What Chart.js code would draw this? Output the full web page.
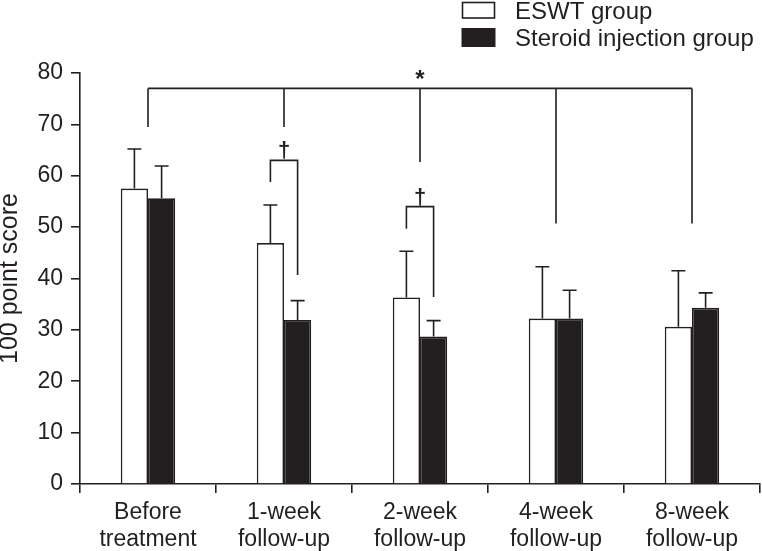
<!DOCTYPE html>
<html>
<head>
<meta charset="utf-8">
<script src="https://cdn.jsdelivr.net/npm/chart.js@4.4.1/dist/chart.umd.min.js"></script>
<style>
html,body{margin:0;padding:0;background:#fff;}
#wrap{position:relative;width:762px;height:551px;}
</style>
</head>
<body>
<div id="wrap"><canvas id="c" width="762" height="551"></canvas></div>
<script>
// ---- data ----
const categories = [["Before","treatment"],["1-week","follow-up"],["2-week","follow-up"],["4-week","follow-up"],["8-week","follow-up"]];
const seriesNames = ["ESWT group","Steroid injection group"];
const eswtMean = [57.5, 46.9, 36.3, 32.2, 30.6];
const eswtSD = [7.7, 7.4, 9.0, 10.1, 10.9];
const steroidMean = [55.6, 31.9, 28.7, 32.2, 34.3];
const steroidSD = [6.3, 3.8, 3.1, 5.5, 2.9];
const yTicks = [0,10,20,30,40,50,60,70,80];
// overall bracket (*): top level and drop ends per category
const starBracketTop = 77.0;
const starBracketEnds = [69.5, 69.5, 62.7, 50.7, 50.7];
// dagger brackets: category index, top, left end (ESWT), right end (steroid)
const daggerCats = [1, 2];
const daggerTops = [63.0, 54.0];
const daggerLeftEnds = [58.8, 49.7];
const daggerRightEnds = [40.7, 36.4];

const INK = '#231f20';
const FONT = '"Liberation Sans", Arial, Helvetica, sans-serif';

const annot = {
  id: 'annot',
  afterDatasetsDraw(chart) {
    const ctx = chart.ctx;
    const y = chart.scales.y, x = chart.scales.x;
    ctx.save();
    ctx.strokeStyle = INK;
    ctx.fillStyle = INK;
    ctx.lineWidth = 1.6;
    ctx.lineCap = 'butt';
    // error bars (upper only)
    [[eswtMean, eswtSD], [steroidMean, steroidSD]].forEach((pair, di) => {
      const meta = chart.getDatasetMeta(di);
      meta.data.forEach((bar, i) => {
        const px = bar.x;
        const top = y.getPixelForValue(pair[0][i] + pair[1][i]);
        const base = y.getPixelForValue(pair[0][i]);
        ctx.beginPath();
        ctx.moveTo(px, base); ctx.lineTo(px, top);
        ctx.moveTo(px - 7, top); ctx.lineTo(px + 7, top);
        ctx.stroke();
      });
    });
    // star bracket
    const yt = y.getPixelForValue(starBracketTop);
    const xs = starBracketEnds.map((v, i) => x.getPixelForValue(i));
    ctx.beginPath();
    ctx.moveTo(xs[0], yt); ctx.lineTo(xs[xs.length - 1], yt);
    starBracketEnds.forEach((v, i) => {
      ctx.moveTo(xs[i], yt); ctx.lineTo(xs[i], y.getPixelForValue(v));
    });
    ctx.stroke();
    ctx.font = 'bold 24px ' + FONT;
    ctx.textAlign = 'center';
    ctx.textBaseline = 'alphabetic';
    ctx.fillText('*', xs[2], yt - 1);
    // dagger brackets
    daggerCats.forEach((ci, k) => {
      const xl = chart.getDatasetMeta(0).data[ci].x;
      const xr = chart.getDatasetMeta(1).data[ci].x;
      const t = y.getPixelForValue(daggerTops[k]);
      ctx.beginPath();
      ctx.moveTo(xl, y.getPixelForValue(daggerLeftEnds[k]));
      ctx.lineTo(xl, t); ctx.lineTo(xr, t);
      ctx.lineTo(xr, y.getPixelForValue(daggerRightEnds[k]));
      ctx.stroke();
      ctx.font = 'bold 22px ' + FONT;
      ctx.fillText('\u2020', (xl + xr) / 2, t - 3);
    });
    ctx.restore();
  },
  afterDraw(chart) {
    const ctx = chart.ctx;
    ctx.save();
    ctx.lineWidth = 1.6;
    ctx.strokeStyle = INK;
    ctx.fillStyle = '#fff';
    ctx.fillRect(462.5, 2.5, 32, 15.5);
    ctx.strokeRect(462.5, 2.5, 32, 15.5);
    ctx.fillStyle = INK;
    ctx.fillRect(461.5, 28, 34, 19);
    ctx.font = '24px ' + FONT;
    ctx.textAlign = 'left';
    ctx.textBaseline = 'alphabetic';
    ctx.fillText(seriesNames[0], 515, 19);
    ctx.fillText(seriesNames[1], 515, 46);
    ctx.restore();
  }
};

new Chart(document.getElementById('c'), {
  type: 'bar',
  data: {
    labels: categories,
    datasets: [
      { label: seriesNames[0], data: eswtMean, backgroundColor: '#ffffff', borderColor: INK, borderWidth: 1.6 },
      { label: seriesNames[1], data: steroidMean, backgroundColor: INK, borderColor: INK, borderWidth: 1.6 }
    ]
  },
  options: {
    responsive: false,
    animation: false,
    devicePixelRatio: 1,
    datasets: { bar: { categoryPercentage: 0.4, barPercentage: 1.0 } },
    layout: { padding: { top: 73, right: 2, left: 0, bottom: 0 } },
    plugins: { legend: { display: false }, tooltip: { enabled: false } },
    scales: {
      x: {
        grid: { display: true, drawOnChartArea: false, drawTicks: true, tickLength: 9, color: INK, lineWidth: 1.6, offset: true },
        border: { display: true, color: INK, width: 1.6 },
        ticks: { color: INK, font: { family: FONT, size: 23, lineHeight: 1.17 }, padding: 6, maxRotation: 0, autoSkip: false },
        afterFit(s) { s.height = 67; }
      },
      y: {
        min: 0, max: 80,
        afterBuildTicks(s) { s.ticks = yTicks.map(v => ({ value: v })); },
        grid: { display: true, drawOnChartArea: false, drawTicks: true, tickLength: 9, color: INK, lineWidth: 1.6 },
        border: { display: true, color: INK, width: 1.6 },
        ticks: { color: INK, font: { family: FONT, size: 23 }, padding: 8 },
        title: { display: true, text: '100 point score', color: INK, font: { family: FONT, size: 25, lineHeight: 1.0 }, padding: { top: -2, bottom: 0 } },
        afterFit(s) { s.width = 80; }
      }
    }
  },
  plugins: [annot]
});
</script>
</body>
</html>
